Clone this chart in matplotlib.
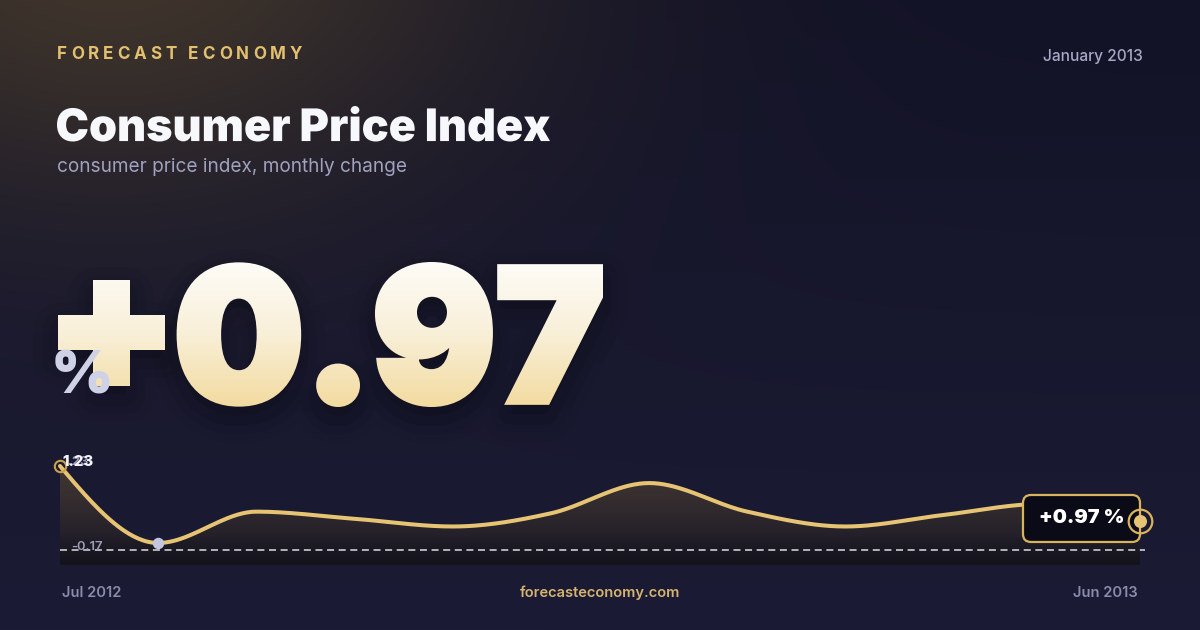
import numpy as np
import matplotlib
matplotlib.use('Agg')
import matplotlib.pyplot as plt
from matplotlib import font_manager as fm
from matplotlib.textpath import TextPath, text_to_path
from matplotlib.font_manager import FontProperties
from matplotlib.patches import PathPatch, FancyBboxPatch, Polygon, Rectangle
from matplotlib.transforms import Affine2D
from matplotlib.colors import LinearSegmentedColormap, to_rgb

# data: monthly CPI change (%), Jul 2012 .. Jun 2013
months = ['Jul 2012', 'Aug 2012', 'Sep 2012', 'Oct 2012', 'Nov 2012', 'Dec 2012',
          'Jan 2013', 'Feb 2013', 'Mar 2013', 'Apr 2013', 'May 2013', 'Jun 2013']
cpi_change = [1.23, -0.17, 0.40, 0.27, 0.13, 0.37, 0.92, 0.40, 0.13, 0.34, 0.54, 0.23]
headline_value = 0.97
headline_month = 'January 2013'
brand = 'FORECAST ECONOMY'
title = 'Consumer Price Index'
subtitle = 'consumer price index, monthly change'
site = 'forecasteconomy.com'

GOLD = '#e6c474'
W, H = 1200, 630
PT = 0.72  # px -> pt at dpi 100


def inter(weight):
    # pick the static Inter file for a weight, fall back to family lookup
    for f in fm.fontManager.ttflist:
        if f.name == 'Inter' and f.weight == weight and f.style == 'normal' and 'opsz' not in f.fname:
            return FontProperties(fname=f.fname)
    return FontProperties(family='Inter', weight=weight)


INTER_BLACK = inter(900)
INTER_XBOLD = inter(800)


def monotone_x(xs, ys, per=40):
    # d3 curveMonotoneX style interpolation, only for drawing the line
    xs = np.asarray(xs, float)
    ys = np.asarray(ys, float)
    h = np.diff(xs)
    s = np.diff(ys) / h
    m = np.empty_like(ys)
    p = (s[:-1] * h[1:] + s[1:] * h[:-1]) / (h[:-1] + h[1:])
    m[1:-1] = (np.sign(s[:-1]) + np.sign(s[1:])) * np.minimum.reduce(
        [np.abs(s[:-1]), np.abs(s[1:]), 0.5 * np.abs(p)])
    m[0] = (3 * s[0] - m[1]) / 2
    m[-1] = (3 * s[-1] - m[-2]) / 2
    ox, oy = [], []
    for i in range(len(xs) - 1):
        t = np.linspace(0, 1, per, endpoint=(i == len(xs) - 2))
        h00 = 2 * t**3 - 3 * t**2 + 1
        h10 = t**3 - 2 * t**2 + t
        h01 = -2 * t**3 + 3 * t**2
        h11 = t**3 - t**2
        ox.append(xs[i] + t * h[i])
        oy.append(h00 * ys[i] + h10 * h[i] * m[i] + h01 * ys[i + 1] + h11 * h[i] * m[i + 1])
    return np.concatenate(ox), np.concatenate(oy)


def fit_tr(path, box, stroke=0.0):
    # transform that puts a text path into a pixel box (x0, y0, x1, y1), y downwards
    e = path.get_extents()
    x0, y0, x1, y1 = box
    x0, y0, x1, y1 = x0 + stroke / 2, y0 + stroke / 2, x1 - stroke / 2, y1 - stroke / 2
    return (Affine2D().translate(-e.x0, -e.y1)
            .scale((x1 - x0) / e.width, -(y1 - y0) / e.height).translate(x0, y0))


fig = plt.figure(figsize=(12, 6.3), dpi=100)
ax = fig.add_axes([0, 0, 1, 1], zorder=0)
ax.set_xlim(0, W)
ax.set_ylim(H, 0)
ax.axis('off')

# background: navy with a warm glow in the top-left corner
yy, xx = np.mgrid[0:H, 0:W]
t = (yy / H)[..., None]
base = np.array(to_rgb('#131327')) * (1 - t) + np.array(to_rgb('#1b1b35')) * t
d = np.hypot((xx - 110) / 600.0, (yy + 60) / 400.0)
glow = np.exp(-2.2 * d**2)[..., None]
warm = np.array(to_rgb('#463a2c'))
bg = base + (warm - base) * glow * 0.88
ax.imshow(np.clip(bg, 0, 1), extent=(0, W, H, 0), aspect='auto', zorder=0)

# header
fp_brand = FontProperties(family='Inter', weight='bold', size=17 * PT)
widths = [text_to_path.get_text_width_height_descent(c, fp_brand, ismath=False)[0] / PT
          for c in brand]
gap = (245 - sum(widths)) / (len(brand) - 1)
x = 57
for c, w in zip(brand, widths):
    ax.text(x, 59, c, fontproperties=fp_brand, color='#e2c070', va='baseline', ha='left')
    x += w + gap

ax.text(1143, 60.5, headline_month, family='Inter', weight='medium', fontsize=15.5 * PT,
        color='#a6a8c6', ha='right', va='baseline')

title_path = TextPath((0, 0), title, size=100, prop=INTER_BLACK)
ax.add_patch(PathPatch(title_path, transform=fit_tr(title_path, (57, 106, 550, 141.5)) + ax.transData,
                       facecolor='#f7f8fc', edgecolor='none', zorder=3))
ax.text(57, 172.5, subtitle, family='Inter', weight='normal', fontsize=19 * PT,
        color='#9fa1bf', ha='left', va='baseline')

# big headline number: sign and digits placed separately, gradient as thin bands
txt = f'{headline_value:+.2f}'
stroke = 7.0
parts = [(TextPath((0, 0), txt[0], size=100, prop=INTER_BLACK), (57.5, 279, 164, 385)),
         (TextPath((0, 0), txt[1:], size=100, prop=INTER_BLACK), (176.6, 262, 603, 407))]

for path, boxp in parts:
    for lw, a in [(40, 0.035), (28, 0.045), (16, 0.05)]:
        ax.add_patch(PathPatch(path, transform=fit_tr(path, boxp, stroke) + Affine2D().translate(0, 12) + ax.transData,
                               facecolor='black', edgecolor='black', lw=lw, alpha=a,
                               joinstyle='round', zorder=2))

cmap_big = LinearSegmentedColormap.from_list('big', ['#fdfcf9', '#f8efd8', '#f2d99c'])
band_top, band_bot, n_band = 256.0, 412.0, 78
edges = np.linspace(band_top, band_bot, n_band + 1)
for path, boxp in parts:
    tr = fit_tr(path, boxp, stroke) + ax.transData
    for k in range(n_band):
        col = cmap_big(k / (n_band - 1))
        pp = PathPatch(path, transform=tr, facecolor=col, edgecolor=col,
                       lw=stroke * PT, joinstyle='miter', zorder=3)
        ax.add_patch(pp)
        rect = Rectangle((0, edges[k] - 0.3), W, edges[k + 1] - edges[k] + 0.6,
                         transform=ax.transData)
        pp.set_clip_path(rect)

ax.text(51, 393, '%', fontproperties=INTER_BLACK, fontsize=60 * PT,
        color='#cfd2e6', ha='left', va='baseline', zorder=4)

# footer
ax.text(62, 597, months[0], family='Inter', weight='semibold', fontsize=14.7 * PT,
        color='#8a8cab', ha='left', va='baseline')
ax.text(1138, 597, months[-1], family='Inter', weight='semibold', fontsize=14.7 * PT,
        color='#8a8cab', ha='right', va='baseline')
ax.text(600, 597, site, family='Inter', weight='semibold', fontsize=14.7 * PT,
        color='#d4b46e', ha='center', va='baseline')

# sparkline
vals = np.array(cpi_change)
xi = np.arange(len(vals))
vmin, vmax = vals.min(), vals.max()
span = vmax - vmin
lo, hi = vmin - 0.286 * span, vmax + 0.143 * span
ref = vmin - 0.091 * span

cax = fig.add_axes([60 / W, (H - 565) / H, 1080 / W, 110 / H], zorder=2)
cax.set_xlim(0, len(vals) - 1)
cax.set_ylim(lo, hi)
cax.axis('off')

cx, cy = monotone_x(xi, vals)
grad = np.linspace(0, 1, 256)[:, None]
cmap_fill = LinearSegmentedColormap.from_list(
    'fill', [(0, '#433830'), (0.3, '#3a3130'), (0.72, '#25212a'), (0.8, '#1d1b25'), (1, '#14131c')])
fim = cax.imshow(grad, extent=(0, len(vals) - 1, lo, hi), cmap=cmap_fill, aspect='auto', zorder=1)
poly = Polygon(np.column_stack([np.r_[cx, cx[-1], cx[0]], np.r_[cy, lo, lo]]),
               closed=True, facecolor='none', edgecolor='none', transform=cax.transData)
cax.add_patch(poly)
fim.set_clip_path(poly)

cax.axhline(ref, xmin=0, xmax=1.005, color='white', lw=1.1, alpha=0.85,
            dashes=(4.6, 3.0), clip_on=False, zorder=2)
cax.plot(cx, cy, color=GOLD, lw=2.9, solid_capstyle='round', clip_on=False, zorder=3)

imax, imin = int(vals.argmax()), int(vals.argmin())
cax.plot(imax, vmax, 'o', ms=8.2, mfc='none', mec='#cba14a', mew=1.5, clip_on=False, zorder=5)
cax.plot(imin, vmin, 'o', ms=8.2, color='#c3c6de', mec='none', clip_on=False, zorder=5)

cax.annotate(f'{vals[0]:.2f}', xy=(0, vals[0]), xytext=(1.5, 0.8), textcoords='offset points',
             family='Inter', weight='semibold', fontsize=9.5, color='#a0a3c0',
             va='baseline', ha='left', annotation_clip=False, zorder=6)
cax.annotate(f'{vmax:.2f}', xy=(imax, vmax), xytext=(2, 0), textcoords='offset points',
             fontproperties=INTER_XBOLD, fontsize=10.8, color='#f4f4f8',
             va='baseline', ha='left', annotation_clip=False, zorder=6)
cax.annotate(f'{vmin:.2f}', xy=(0, ref), xytext=(7.9, 1.8), textcoords='offset points',
             family='Inter', weight='semibold', fontsize=9.4, color='#9a9dbb',
             va='center', ha='left', annotation_clip=False, zorder=6)

# value box at the end of the line
ex, ey = ax.transData.inverted().transform(cax.transData.transform((xi[-1], vals[-1])))
bx, by = ex - 58.5, ey - 2.5
box = FancyBboxPatch((bx - 58.5, by - 23.5), 117, 47, boxstyle='round,pad=0,rounding_size=8',
                     facecolor='#0b0b18', edgecolor='#d9b45e', lw=1.6,
                     transform=ax.transData, clip_on=False, zorder=7)
cax.add_artist(box)
cax.text(bx, by, f'{headline_value:+.2f} %', transform=ax.transData,
         fontproperties=INTER_BLACK, fontsize=20 * PT, color='white', ha='center', va='center',
         clip_on=False, zorder=8)
cax.plot(xi[-1], vals[-1], 'o', ms=17, mfc='none', mec='#d9b45e', mew=1.6, clip_on=False, zorder=9)
cax.plot(xi[-1], vals[-1], 'o', ms=9.4, color='#e5c476', mec='none', clip_on=False, zorder=9)

fig.savefig('out.png', dpi=100, facecolor='#15152a')
